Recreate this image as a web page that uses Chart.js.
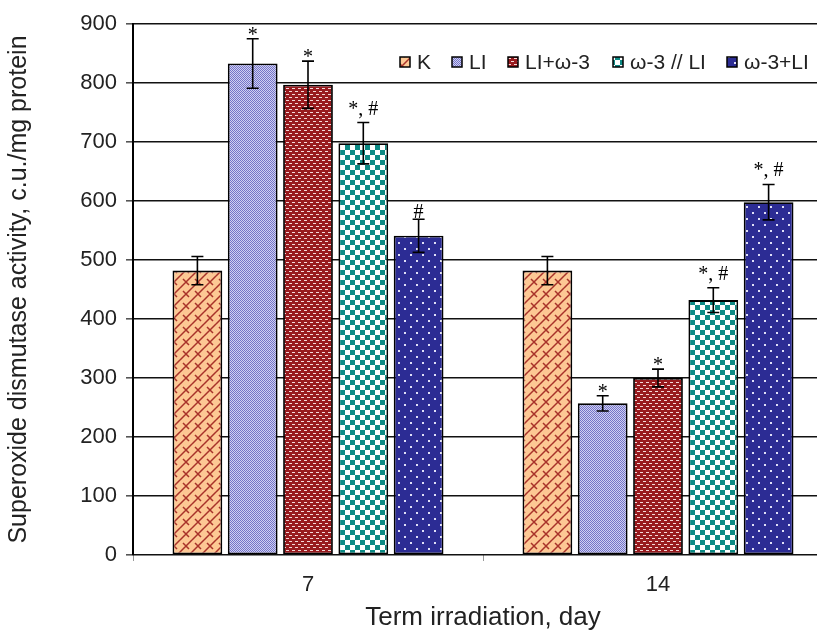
<!DOCTYPE html>
<html lang="en">
<head>
    <meta charset="UTF-8">
    <title>Superoxide dismutase activity</title>
    <script src="https://cdn.jsdelivr.net/npm/chart.js"></script>
    <style>
        * {
            margin: 0;
            padding: 0;
            box-sizing: border-box;
        }

        body {
            background-color: #fff;
            overflow: hidden;
            width: 817px;
            height: 631px;
        }

        .wrap {
            position: relative;
            width: 850px;
            height: 631px;
        }
    </style>
</head>
<body>
    <div class="wrap">
        <canvas id="sodChart"></canvas>
    </div>
    <script>
        const days = ["7", "14"];
        const groups = ["K", "LI", "LI+ω-3", "ω-3 // LI", "ω-3+LI"];

        // values per group, for day 7 and day 14
        const valK = [482, 482];
        const valLI = [833, 257];
        const valLIw3 = [797, 300];
        const valW3slashLI = [698, 432];
        const valW3plusLI = [541, 598];

        // error bars (+/-)
        const errK = [24, 24];
        const errLI = [42, 13];
        const errLIw3 = [40, 15];
        const errW3slashLI = [35, 21];
        const errW3plusLI = [28, 30];

        // significance marks above the bars
        const markK = ["", ""];
        const markLI = ["*", "*"];
        const markLIw3 = ["*", "*"];
        const markW3slashLI = ["*, #", "*, #"];
        const markW3plusLI = ["#", "*, #"];

        const yTicks = [0, 100, 200, 300, 400, 500, 600, 700, 800, 900];

        const FONT = "'Liberation Sans', Arial, sans-serif";

        // --- fill patterns ---
        function makeTile(w, h, draw) {
            const c = document.createElement("canvas");
            c.width = w;
            c.height = h;
            const g = c.getContext("2d");
            draw(g, w, h);
            return g.createPattern(c, "repeat");
        }

        const patK = makeTile(12, 12, (g, w, h) => {
            g.fillStyle = "#fdc894";
            g.fillRect(0, 0, w, h);
            g.strokeStyle = "#a8322a";
            g.lineWidth = 1.5;
            for (let ox = -12; ox <= 12; ox += 12) {
                for (let oy = -12; oy <= 12; oy += 12) {
                    g.beginPath();
                    g.moveTo(ox, oy + 12);
                    g.lineTo(ox + 12, oy);
                    g.moveTo(ox + 3, oy + 3);
                    g.lineTo(ox + 9, oy + 9);
                    g.stroke();
                }
            }
        });

        const patLI = makeTile(2, 2, (g) => {
            g.fillStyle = "#d0d0f2";
            g.fillRect(0, 0, 2, 2);
            g.fillStyle = "#7474c8";
            g.fillRect(0, 0, 1, 1);
            g.fillRect(1, 1, 1, 1);
        });

        const patLIw3 = makeTile(6, 6, (g) => {
            g.fillStyle = "#981a1e";
            g.fillRect(0, 0, 6, 6);
            g.fillStyle = "#f4d8d8";
            g.fillRect(1, 1, 3, 1);
            g.fillRect(4, 4, 2, 1);
            g.fillRect(0, 4, 1, 1);
        });

        const patW3slashLI = makeTile(10, 10, (g) => {
            g.fillStyle = "#ffffff";
            g.fillRect(0, 0, 10, 10);
            g.fillStyle = "#0c8a84";
            g.fillRect(0, 0, 5, 5);
            g.fillRect(5, 5, 5, 5);
        });

        const patW3plusLI = makeTile(12, 12, (g) => {
            g.fillStyle = "#2c2c94";
            g.fillRect(0, 0, 12, 12);
            g.fillStyle = "#e0e0f8";
            g.fillRect(2, 2, 2, 2);
            g.fillRect(8, 8, 2, 2);
        });

        const seriesVals = [valK, valLI, valLIw3, valW3slashLI, valW3plusLI];
        const seriesErr = [errK, errLI, errLIw3, errW3slashLI, errW3plusLI];
        const seriesMark = [markK, markLI, markLIw3, markW3slashLI, markW3plusLI];
        const seriesFill = [patK, patLI, patLIw3, patW3slashLI, patW3plusLI];

        // error bars + marks
        const errorBars = {
            id: "errorBars",
            afterDatasetsDraw(chart) {
                const ctx = chart.ctx;
                const y = chart.scales.y;
                ctx.save();
                ctx.strokeStyle = "#000";
                ctx.lineWidth = 1.6;
                ctx.fillStyle = "#000";
                ctx.font = "20px 'Liberation Serif', 'Times New Roman', serif";
                ctx.textAlign = "center";
                ctx.textBaseline = "alphabetic";
                chart.data.datasets.forEach((ds, i) => {
                    const meta = chart.getDatasetMeta(i);
                    meta.data.forEach((bar, j) => {
                        const v = ds.data[j];
                        const e = seriesErr[i][j];
                        const top = y.getPixelForValue(v + e);
                        const bot = y.getPixelForValue(v - e);
                        ctx.beginPath();
                        ctx.moveTo(bar.x, top);
                        ctx.lineTo(bar.x, bot);
                        ctx.moveTo(bar.x - 6, top);
                        ctx.lineTo(bar.x + 6, top);
                        ctx.moveTo(bar.x - 6, bot);
                        ctx.lineTo(bar.x + 6, bot);
                        ctx.stroke();
                        const m = seriesMark[i][j];
                        if (!m) return;
                        const lift = m.length > 1 ? 10 : (m === "#" ? 3 : 0);
                        ctx.fillText(m, bar.x, top - lift + 2);
                    });
                });
                ctx.restore();
            }
        };

        // legend inside the plot, top right
        const legendPos = [400, 452, 508, 613, 727];
        const innerLegend = {
            id: "innerLegend",
            afterDraw(chart) {
                const ctx = chart.ctx;
                const cy = 62;
                ctx.save();
                ctx.font = "21px " + FONT;
                ctx.textBaseline = "middle";
                ctx.textAlign = "left";
                groups.forEach((name, i) => {
                    const x = legendPos[i];
                    ctx.fillStyle = seriesFill[i];
                    ctx.fillRect(x, cy - 5, 10, 10);
                    ctx.strokeStyle = "#000";
                    ctx.lineWidth = 1.5;
                    ctx.strokeRect(x, cy - 5, 10, 10);
                    ctx.fillStyle = "#222";
                    ctx.fillText(name, x + 17, cy + 1);
                });
                ctx.restore();
            }
        };

        const ctx = document.getElementById("sodChart").getContext("2d");
        new Chart(ctx, {
            type: "bar",
            data: {
                labels: days,
                datasets: groups.map((name, i) => ({
                    label: name,
                    data: seriesVals[i],
                    backgroundColor: seriesFill[i],
                    borderColor: "#000",
                    borderWidth: 1.8,
                    borderSkipped: false,
                    barPercentage: 0.9,
                    categoryPercentage: 0.79
                }))
            },
            options: {
                responsive: true,
                maintainAspectRatio: false,
                animation: false,
                layout: { padding: { top: 24, right: 17, left: 0, bottom: 0 } },
                plugins: {
                    legend: { display: false },
                    tooltip: { enabled: false }
                },
                scales: {
                    x: {
                        afterFit: (s) => { s.height = 76; },
                        grid: {
                            offset: true,
                            drawOnChartArea: false,
                            drawTicks: true,
                            tickLength: 6,
                            color: "#999"
                        },
                        border: { display: false },
                        ticks: {
                            color: "#222",
                            padding: 11,
                            font: { family: FONT, size: 22 }
                        },
                        title: {
                            display: true,
                            text: "Term irradiation, day",
                            color: "#222",
                            padding: { top: 0, bottom: -2 },
                            font: { family: FONT, size: 26 }
                        }
                    },
                    y: {
                        min: 0,
                        max: 900,
                        afterFit: (s) => { s.width = 133; },
                        afterBuildTicks: (s) => { s.ticks = yTicks.map(v => ({ value: v })); },
                        grid: {
                            color: "#111",
                            lineWidth: 1.6,
                            tickLength: 7,
                            tickColor: "#555"
                        },
                        border: { color: "#000", width: 2 },
                        ticks: {
                            color: "#222",
                            padding: 9,
                            font: { family: FONT, size: 22 }
                        },
                        title: {
                            display: true,
                            text: "Superoxide dismutase activity, c.u./mg protein",
                            color: "#222",
                            padding: { top: 4, bottom: 0 },
                            font: { family: FONT, size: 25 }
                        }
                    }
                }
            },
            plugins: [errorBars, innerLegend]
        });
    </script>
</body>
</html>
